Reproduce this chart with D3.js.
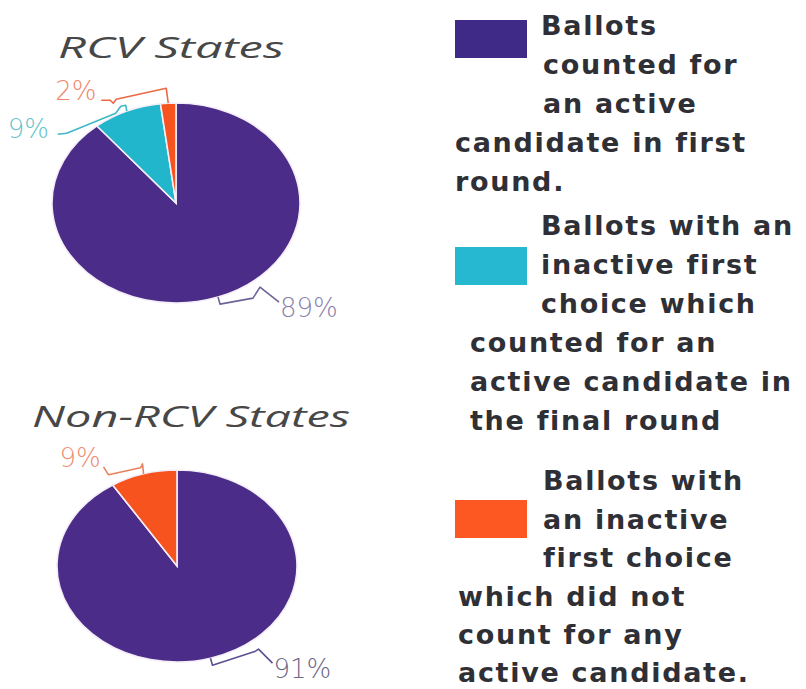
<!DOCTYPE html>
<html><head><meta charset="utf-8">
<script src="https://cdn.jsdelivr.net/npm/d3@7"></script>
<style>
html,body{margin:0;padding:0;background:#fff;}
svg{display:block;}
</style></head>
<body>
<svg id="chart" width="806" height="689"></svg>
<script>
// ---- data ----
const categories = ["active_first", "inactive_counted", "inactive_not_counted"];
const categoryColors = ["#4b2c88", "#22b6cc", "#f7531f"];
const legendSwatchColors = ["#3f2a87", "#25b8d0", "#fd5722"];
const legendLines = [
  ["Ballots", "counted for", "an active", "candidate in first", "round."],
  ["Ballots with an", "inactive first", "choice which", "counted for an", "active candidate in", "the final round"],
  ["Ballots with", "an inactive", "first choice", "which did not", "count for any", "active candidate."]
];
const chartTitles = ["RCV States", "Non-RCV States"];
const rcvValues = [89, 9, 2];
const nonRcvValues = [91, 0, 9];

// ---- layout ----
const svg = d3.select("#chart");
const pies = [
  {title: chartTitles[0], values: rcvValues, cx: 176, cy: 203, rx: 124, ry: 100,
   titleX: 58, titleY: 58, titleW: 226,
   leaders: {
     0: {pts: [[0,0],[2,7],[35,1],[42,-10],[61,5]], tx: 62, ty: 20, col: "#6e6399", tcol: "#8a82aa"},
     1: {pts: [[0,0],[-1,-6],[-6,-5],[-11,2],[-60,22],[-69,23]], tx: -119, ty: 27, col: "#3db8c6", tcol: "#66c4cb"},
     2: {pts: [[0,0],[-2,-15],[-52,-4],[-55,0],[-58,-3],[-67,-3]], tx: -113, ty: -3, col: "#ea6a45", tcol: "#f0886a"}
   }},
  {title: chartTitles[1], values: nonRcvValues, cx: 177, cy: 566, rx: 120, ry: 96,
   titleX: 32, titleY: 427, titleW: 318,
   leaders: {
     0: {pts: [[0,0],[2,7],[45,-7],[48,-9],[62,5]], tx: 63, ty: 20, col: "#5d4f8f", tcol: "#6d6888"},
     2: {pts: [[0,0],[-1,-10],[-3,-6],[-35,1],[-40,-7]], tx: -84, ty: -7, col: "#e8825e", tcol: "#f08d72"}
   }}
];

const pieGen = d3.pie().sort(null).value(d => d.v);
const R = 100;
const arcGen = d3.arc().innerRadius(0).outerRadius(R);

pies.forEach(p => {
  svg.append("text")
    .attr("x", p.titleX).attr("y", p.titleY)
    .attr("textLength", p.titleW).attr("lengthAdjust", "spacingAndGlyphs")
    .style("font-family", "'Open Sans', 'DejaVu Sans', sans-serif")
    .style("font-style", "italic").style("font-weight", 400)
    .style("font-size", "29px").style("fill", "#474747")
    .text(p.title);

  const data = p.values.map((v, i) => ({v, i}));
  const arcs = pieGen(data);
  const g = svg.append("g")
    .attr("transform", `translate(${p.cx},${p.cy}) scale(${p.rx / R},${p.ry / R})`);
  g.selectAll("path").data(arcs.filter(a => a.data.v > 0)).join("path")
    .attr("d", arcGen)
    .attr("fill", d => categoryColors[d.data.i])
    .attr("stroke", "#f4eef8")
    .attr("stroke-width", 1.6)
    .attr("vector-effect", "non-scaling-stroke");

  arcs.forEach(a => {
    const L = p.leaders[a.data.i];
    if (!L || a.data.v <= 0) return;
    const mid = (a.startAngle + a.endAngle) / 2;
    const ex = p.cx + p.rx * Math.sin(mid);
    const ey = p.cy - p.ry * Math.cos(mid);
    svg.append("path")
      .attr("d", d3.line()(L.pts.map(q => [ex + q[0], ey + q[1]])))
      .attr("fill", "none").attr("stroke", L.col).attr("stroke-width", 1.6)
      .attr("stroke-linejoin", "round");
    svg.append("text")
      .attr("x", ex + L.tx).attr("y", ey + L.ty)
      .style("font-family", "'DejaVu Sans', sans-serif")
      .style("font-weight", 200).style("font-size", "26px")
      .style("fill", L.tcol)
      .text(a.data.v + "%");
  });
});

// ---- legend ----
const legendBlocks = [
  {sy: 20, lines: [[541,35],[543,74],[543,113],[455,152],[455,191]]},
  {sy: 247, lines: [[541,235],[541,274],[541,313],[470,352],[470,391],[470,430]]},
  {sy: 500, lines: [[543,490],[543,529],[543,567],[458,606],[458,644],[458,682]]}
];
legendBlocks.forEach((b, k) => {
  svg.append("rect").attr("x", 455).attr("y", b.sy).attr("width", 72).attr("height", 38)
    .attr("fill", legendSwatchColors[k]);
  legendLines[k].forEach((t, j) => {
    svg.append("text")
      .attr("x", b.lines[j][0]).attr("y", b.lines[j][1])
      .style("font-family", "'DejaVu Sans', sans-serif")
      .style("font-weight", 700).style("font-size", "27px")
      .style("letter-spacing", "1.7px")
      .style("fill", "#2f2f36")
      .text(t);
  });
});
</script>
</body></html>
